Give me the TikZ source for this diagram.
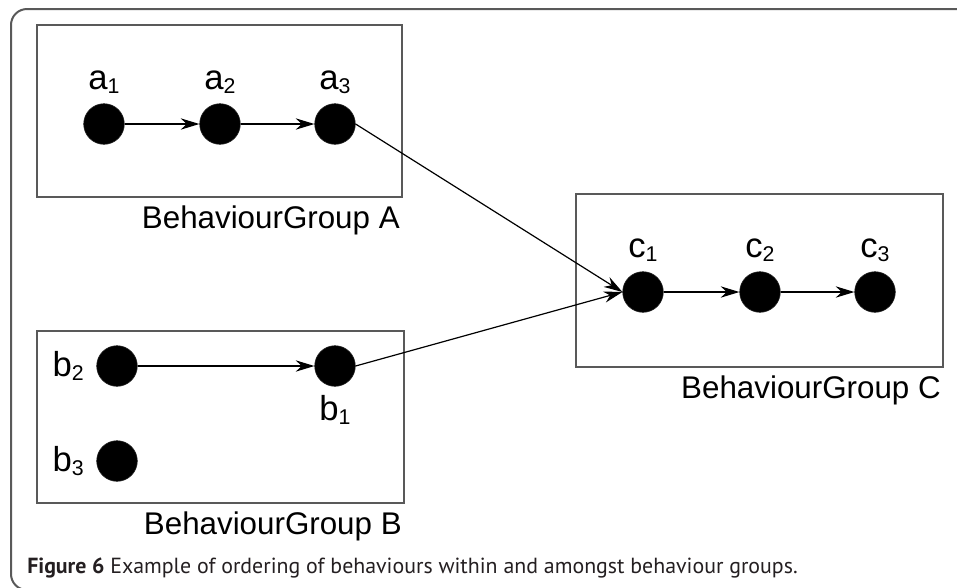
\documentclass[tikz,border=0pt]{standalone}
\usepackage{fontspec}
\setmainfont{Liberation Sans}
\newfontfamily\capfont{PT Sans}
\usetikzlibrary{arrows.meta}
\definecolor{framegray}{rgb}{0.35,0.35,0.35}
\definecolor{captext}{rgb}{0.14,0.12,0.13}
\newcommand{\sublbl}[2]{#1\raisebox{-3pt}{\fontsize{16}{16}\selectfont #2}}
\tikzset{
  dot/.style={circle,fill=black,draw=black!85,minimum size=30.5pt,inner sep=0pt},
  lbl/.style={font=\fontsize{26}{30}\selectfont,inner sep=0pt},
  grplbl/.style={font=\fontsize{23.5}{28}\selectfont,inner sep=0pt,anchor=base east},
  grpbox/.style={draw=framegray,line width=1.1pt},
  arr/.style={-{Stealth[length=14pt,width=8.5pt,inset=4.5pt]},line width=0.9pt}
}

\begin{document}
\begin{tikzpicture}[x=0.75pt,y=-0.75pt]
    \useasboundingbox (0,0) rectangle (957,587);
    \clip (0,0) rectangle (957,587);
    \draw[framegray,line width=1.5pt,rounded corners=12pt] (960,9) -- (11,9) -- (11,590) -- (60,590);
    % groups
    \draw[grpbox] (37,25) rectangle (402,197);
    \draw[grpbox] (37,331) rectangle (404,503);
    \draw[grpbox] (576,194) rectangle (943,367);
    \node[grplbl] (gA) at (400,228) {BehaviourGroup A};
    \node[grplbl] (gB) at (402,534) {BehaviourGroup B};
    \node[grplbl] (gC) at (941,398) {BehaviourGroup C};
    % behaviours
    \node[dot] (a1) at (104,124) {};
    \node[dot] (a2) at (220,124) {};
    \node[dot] (a3) at (335,124) {};
    \node[dot] (c1) at (643,292) {};
    \node[dot] (c2) at (760,292) {};
    \node[dot] (c3) at (875,292) {};
    \node[dot] (b2) at (117,366) {};
    \node[dot] (b1) at (335,366) {};
    \node[dot] (b3) at (117,461) {};
    \node[lbl,anchor=base] (la1) at (104,89) {\sublbl{a}{1}};
    \node[lbl,anchor=base] (la2) at (220,89) {\sublbl{a}{2}};
    \node[lbl,anchor=base] (la3) at (335,89) {\sublbl{a}{3}};
    \node[lbl,anchor=base] (lc1) at (643,257) {\sublbl{c}{1}};
    \node[lbl,anchor=base] (lc2) at (760,257) {\sublbl{c}{2}};
    \node[lbl,anchor=base] (lc3) at (875,257) {\sublbl{c}{3}};
    \node[lbl,anchor=base east] (lb2) at (84,376) {\sublbl{b}{2}};
    \node[lbl,anchor=base] (lb1) at (335,420) {\sublbl{b}{1}};
    \node[lbl,anchor=base east] (lb3) at (84,471) {\sublbl{b}{3}};
    % ordering
    \draw[arr] (a1) -- (a2);
    \draw[arr] (a2) -- (a3);
    \draw[arr] (c1) -- (c2);
    \draw[arr] (c2) -- (c3);
    \draw[arr] (b2) -- (b1);
    \draw[arr] (a3.east) -- (c1.west);
    \draw[arr] (b1.east) -- (c1.west);
    \node[anchor=base west,inner sep=0pt,text=captext,font=\capfont\fontsize{16.4}{19}\selectfont] (cap) at (27,573)
      {\textbf{Figure 6} Example of ordering of behaviours within and amongst behaviour groups.};
\end{tikzpicture}
\end{document}
